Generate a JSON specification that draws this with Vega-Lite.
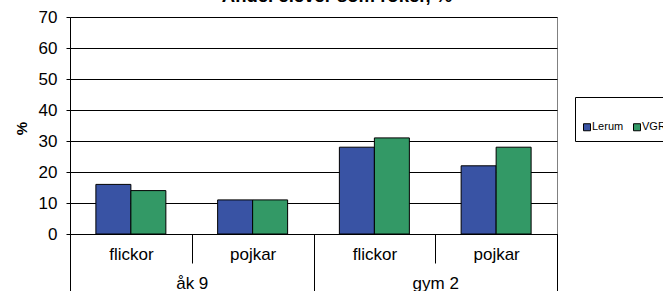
{
  "$schema": "https://vega.github.io/schema/vega-lite/v6.json",
  "width": 487,
  "height": 217,
  "autosize": {"type": "none"},
  "padding": {"left": 70, "top": 17, "right": 106, "bottom": 57},
  "background": "white",
  "title": {
    "text": "Andel elever som röker, %",
    "font": "Liberation Sans",
    "fontSize": 18.5,
    "fontWeight": "bold",
    "color": "black",
    "anchor": "middle",
    "frame": "group",
    "baseline": "alphabetic",
    "offset": -12,
    "dx": 23.5
  },
  "config": {
    "font": "Liberation Sans",
    "view": {"stroke": "#808080", "strokeWidth": 1},
    "axis": {
      "labelFont": "Liberation Sans",
      "labelColor": "black",
      "labelFontSize": 17,
      "tickColor": "black",
      "domainColor": "black"
    }
  },
  "layer": [
    {
      "data": {
        "values": [
          {"cat": "åk 9|flickor", "series": "Lerum", "value": 16},
          {"cat": "åk 9|flickor", "series": "VGR", "value": 14},
          {"cat": "åk 9|pojkar", "series": "Lerum", "value": 11},
          {"cat": "åk 9|pojkar", "series": "VGR", "value": 11},
          {"cat": "gym 2|flickor", "series": "Lerum", "value": 28},
          {"cat": "gym 2|flickor", "series": "VGR", "value": 31},
          {"cat": "gym 2|pojkar", "series": "Lerum", "value": 22},
          {"cat": "gym 2|pojkar", "series": "VGR", "value": 28}
        ]
      },
      "mark": {"type": "bar", "stroke": "black", "strokeWidth": 1},
      "encoding": {
        "x": {
          "field": "cat",
          "type": "nominal",
          "sort": ["åk 9|flickor", "åk 9|pojkar", "gym 2|flickor", "gym 2|pojkar"],
          "scale": {"paddingInner": 0, "paddingOuter": 0},
          "axis": {
            "orient": "bottom",
            "title": null,
            "labelAngle": 0,
            "labelExpr": "split(datum.label, '|')[1]",
            "tickBand": "extent",
            "tickSize": 29,
            "labelPadding": -16.5,
            "labelBaseline": "top",
            "domainColor": "black",
            "grid": false
          }
        },
        "xOffset": {
          "field": "series",
          "type": "nominal",
          "scale": {"paddingInner": 0, "paddingOuter": 0.74}
        },
        "y": {
          "field": "value",
          "type": "quantitative",
          "scale": {"domain": [0, 70]},
          "axis": {
            "values": [0, 10, 20, 30, 40, 50, 60, 70],
            "title": "%",
            "titleFont": "Liberation Sans",
            "titleFontSize": 15,
            "titleFontWeight": "bold",
            "titleColor": "black",
            "titleAngle": -90,
            "titleX": -48.5,
            "titleY": 111,
            "titleAlign": "center",
            "titleBaseline": "middle",
            "tickSize": 4,
            "labelPadding": 9,
            "grid": true,
            "gridColor": "black",
            "gridOpacity": 1,
            "gridWidth": 1
          }
        },
        "color": {
          "field": "series",
          "type": "nominal",
          "scale": {"domain": ["Lerum", "VGR"], "range": ["#3953A4", "#339966"]},
          "legend": {
            "orient": "none",
            "legendX": 505,
            "legendY": 80,
            "direction": "horizontal",
            "title": null,
            "strokeColor": "black",
            "padding": 8,
            "symbolType": "M-1,-0.163H-0.674V0.163H-1Z",
            "symbolSize": 1849,
            "symbolStrokeColor": "black",
            "symbolStrokeWidth": 1,
            "labelFont": "Liberation Sans",
            "labelFontSize": 11,
            "labelColor": "black",
            "labelOffset": -35,
            "columnPadding": 7
          }
        }
      }
    },
    {
      "data": {"values": [{"group": "åk 9"}, {"group": "gym 2"}]},
      "mark": {"type": "rule", "strokeOpacity": 0},
      "encoding": {
        "x": {
          "field": "group",
          "type": "nominal",
          "sort": ["åk 9", "gym 2"],
          "scale": {"paddingInner": 0, "paddingOuter": 0},
          "axis": {
            "orient": "bottom",
            "title": null,
            "labelAngle": 0,
            "domain": false,
            "tickBand": "extent",
            "tickSize": 57,
            "labelPadding": -15.4,
            "labelBaseline": "top",
            "grid": false
          }
        }
      }
    }
  ],
  "resolve": {"scale": {"x": "independent"}, "axis": {"x": "independent"}}
}
